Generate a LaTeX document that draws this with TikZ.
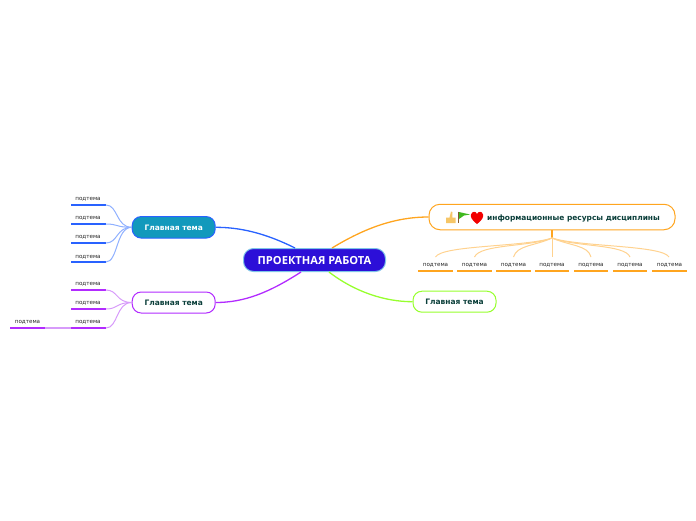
\documentclass[tikz,border=0pt]{standalone}
\usepackage{fontspec}
\setmainfont{DejaVu Sans}
\newfontfamily\mainfnt{Open Sans}
\definecolor{cBlue}{HTML}{2962FF}
\definecolor{cBlueL}{HTML}{8FB0FF}
\definecolor{cPur}{HTML}{B22BFF}
\definecolor{cPurL}{HTML}{D79BFA}
\definecolor{cOr}{HTML}{FFA51F}
\definecolor{cOrL}{HTML}{FFD28F}
\definecolor{cGr}{HTML}{97FF2E}
\definecolor{cTxt}{HTML}{0B3F3A}
\definecolor{cMain}{HTML}{2C0FD8}
\definecolor{cTeal}{HTML}{1299BC}
\definecolor{cEdge}{HTML}{7FC4E8}
\definecolor{cThumb}{HTML}{F6C667}
\definecolor{cFlag}{HTML}{3FB91F}
\tikzset{
 topicbox/.style={draw=#1,line width=1pt,rounded corners=9pt,fill=white,text=cTxt,font=\bfseries\fontsize{7.5}{9}\selectfont,inner sep=0pt,anchor=center,text depth=0pt,yshift=0pt},
 subtxt/.style={font=\fontsize{5.6}{7}\selectfont,text=black!85,inner sep=0pt},
 under/.style={line width=1.5pt,#1},
 twig/.style={line width=1pt,#1},
 trunk/.style={line width=1.3pt,#1},
}
\begin{document}
\begin{tikzpicture}[x=1pt,y=-1pt]
\useasboundingbox (0,0) rectangle (696,520);
% main
\node[draw=cEdge,line width=1pt,fill=cMain,rounded corners=10pt,minimum width=142pt,minimum height=23pt,inner sep=0pt,text=white,text depth=0pt,font=\mainfnt\bfseries\fontsize{11.1}{13}\selectfont] (main) at (314.5,260) {ПРОЕКТНАЯ РАБОТА};
% topics
\node[topicbox=cBlue,fill=cTeal,text=white,minimum width=83pt,minimum height=21.5pt] (t1) at (173.7,227.3) {Главная тема};
\node[topicbox=cPur,minimum width=83pt,minimum height=21pt] (t2) at (173.7,302.5) {Главная тема};
\node[topicbox=cGr,minimum width=83pt,minimum height=21pt] (t3) at (454.5,301.7) {Главная тема};
\node[topicbox=cOr,rounded corners=11pt,minimum width=246pt,minimum height=25.5pt] (t4) at (552,217) {};
\node[inner sep=0pt,text=cTxt,font=\bfseries\fontsize{7.45}{9}\selectfont] (t4txt) at (573.5,218) {информационные ресурсы дисциплины};
% icons
\fill[cThumb] (446,223) rectangle (455.5,217.5) (449.5,217.5) -- (451,211.5) -- (452.5,212) -- (452.3,217.5) -- cycle;
\draw[brown!70!black,line width=.8pt] (458.5,211.5) -- (458.5,223);
\fill[cFlag] (459,212) -- (470,214.5) -- (464,215.5) -- (459,219) -- cycle;
\fill[red!95!black] (477,224) .. controls (471,219.5) and (470.5,216.5) .. (471,214.5) .. controls (472,211) and (476,211) .. (477,214) .. controls (478,211) and (482.5,211) .. (483,214.5) .. controls (483.5,216.5) and (483,219.5) .. (477,224) -- cycle;
% main connectors
\draw[trunk=cBlue] (295,248) .. controls (265,233) and (240,227.3) .. (t1.east);
\draw[trunk=cOr] (332,248) .. controls (365,228) and (395,217) .. (t4.west);
\draw[trunk=cPur] (301,272) .. controls (270,292) and (245,302.5) .. (t2.east);
\draw[trunk=cGr] (329,272) .. controls (355,292) and (385,301.7) .. (t3.west);
% orange subtopics
\coordinate (hub) at (552,238);
\draw[line width=1.2pt,cOr] (t4.south) -- (hub);
\foreach \n/\a/\b in {1/418/453,2/457/492,3/496/531,4/535/569,5/574/608,6/613/647,7/652/687}{
  \pgfmathsetmacro\m{(\a+\b)/2}
  \node[subtxt] (o\n) at (\m,265) {подтема};
  \coordinate (ol\n) at (\a,271);
  \coordinate (or\n) at (\b,271);
  \draw[under=cOr] (ol\n) -- (or\n);
}
\draw[twig=cOrL] (hub) .. controls (525,247) and (442,245) .. (435.5,257);
\draw[twig=cOrL] (hub) .. controls (530,247) and (480,244) .. (474.5,257);
\draw[twig=cOrL] (hub) .. controls (535,246) and (517,245) .. (513.5,257);
\draw[twig=cOrL] (hub) -- (552,257);
\draw[twig=cOrL] (hub) .. controls (570,246) and (588,245) .. (591,257);
\draw[twig=cOrL] (hub) .. controls (575,247) and (625,244) .. (630,257);
\draw[twig=cOrL] (hub) .. controls (580,247) and (662,245) .. (669,257);
% blue subtopics
\foreach \n/\yl/\yt in {1/205/199,2/224/218,3/243/237,4/262/257}{
  \node[subtxt] (b\n) at (88,\yt) {подтема};
  \coordinate (bl\n) at (71,\yl);
  \coordinate (br\n) at (106,\yl);
  \draw[under=cBlue] (bl\n) -- (br\n);
  \draw[twig=cBlueL] (br\n) .. controls (118,\yl) and (116,227.3) .. (t1.west);
}
% purple subtopics
\foreach \n/\yl/\yt in {1/290/284,2/309/303,3/328/322}{
  \node[subtxt] (p\n) at (88,\yt) {подтема};
  \coordinate (pl\n) at (71,\yl);
  \coordinate (pr\n) at (106,\yl);
  \draw[under=cPur] (pl\n) -- (pr\n);
  \draw[twig=cPurL] (pr\n) .. controls (118,\yl) and (116,302.5) .. (t2.west);
}
\node[subtxt] (p4) at (27.5,322) {подтема};
\coordinate (pl4) at (10,328);
\coordinate (pr4) at (45,328);
\draw[under=cPur] (pl4) -- (pr4);
\draw[line width=1.5pt,cPurL] (pr4) -- (pl3);
\end{tikzpicture}
\end{document}
